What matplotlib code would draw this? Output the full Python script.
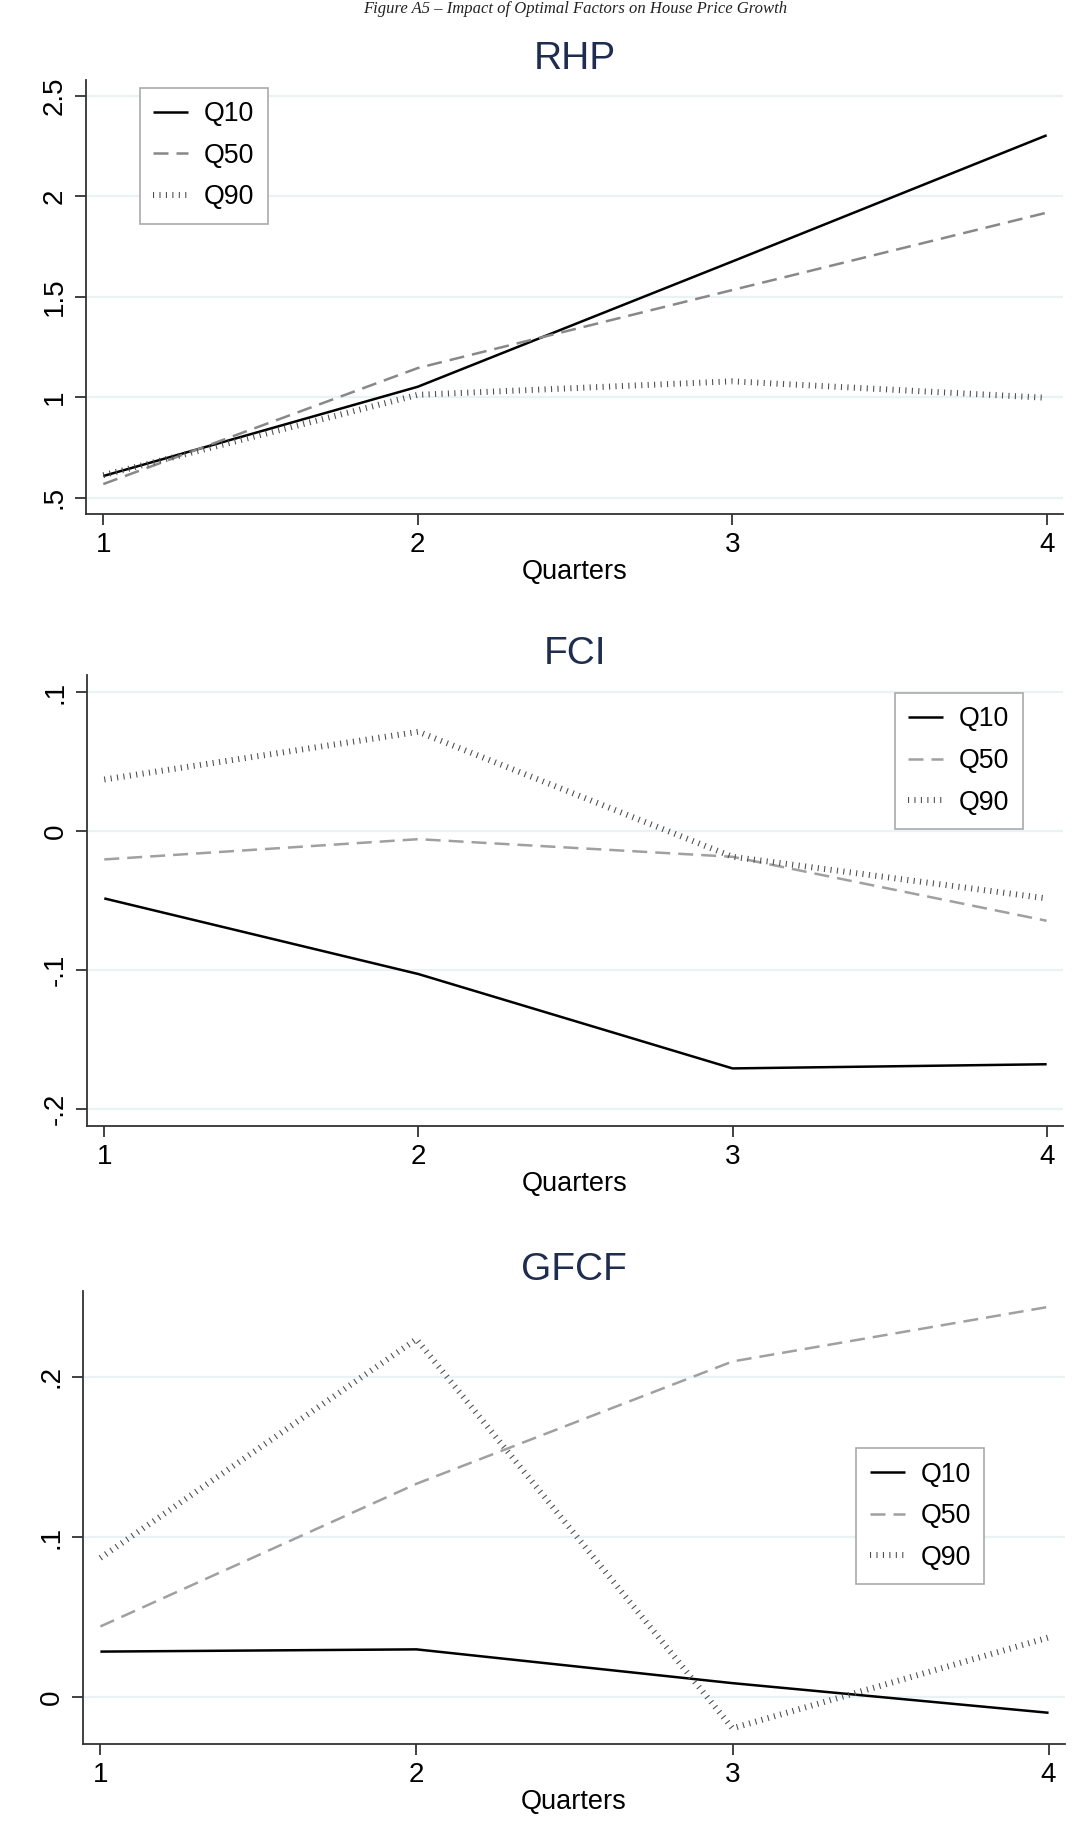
import numpy as np
import matplotlib
matplotlib.use("Agg")
import matplotlib.pyplot as plt

plt.rcParams['font.family'] = ['Liberation Sans', 'DejaVu Sans']

# data
quarters = [1, 2, 3, 4]
series_names = ['Q10', 'Q50', 'Q90']

rhp_q10 = [0.608, 1.052, 1.675, 2.303]
rhp_q50 = [0.568, 1.145, 1.533, 1.918]
rhp_q90 = [0.612, 1.012, 1.079, 0.997]

fci_q10 = [-0.0485, -0.103, -0.171, -0.168]
fci_q50 = [-0.0204, -0.0058, -0.0185, -0.0646]
fci_q90 = [0.0372, 0.0716, -0.0185, -0.0485]

gfcf_q10 = [0.0285, 0.0299, 0.0088, -0.0097]
gfcf_q50 = [0.0442, 0.1333, 0.2097, 0.2438]
gfcf_q90 = [0.0870, 0.2236, -0.0194, 0.0373]

rhp_ticks = [0.5, 1, 1.5, 2, 2.5]
rhp_labels = ['.5', '1', '1.5', '2', '2.5']
fci_ticks = [-0.2, -0.1, 0, 0.1]
fci_labels = ['-.2', '-.1', '0', '.1']
gfcf_ticks = [0, 0.1, 0.2]
gfcf_labels = ['0', '.1', '.2']

W, H = 1081, 1821
fig = plt.figure(figsize=(W / 100, H / 100), dpi=100)

# caption at the very top (cut in the original scan, kept fully visible here)
fig.text(575 / W, 1 - 1 / H, 'Figure A5 \u2013 Impact of Optimal Factors on House Price Growth',
         ha='center', va='top', fontsize=12, style='italic',
         family=['Liberation Serif', 'DejaVu Serif'], color='#222222')


def panel(rect_px, title, q10, q50, q90, yticks, ylabels, ylim, leg_loc, leg_anchor, q50_color):
    l, r, t, b = rect_px
    ax = fig.add_axes([l / W, 1 - b / H, (r - l) / W, (b - t) / H])
    ax.plot(quarters, q10, color='black', lw=1.8, label=series_names[0], solid_capstyle='butt')
    ax.plot(quarters, q50, color=q50_color, lw=1.8, linestyle=(0, (6, 3.2)), label=series_names[1])
    ax.plot(quarters, q90, color='#4d4d4d', lw=4.3, linestyle=(0, (0.18, 0.9)), label=series_names[2])
    ax.set_xlim(0.945, 4.052)
    ax.set_ylim(*ylim)
    ax.set_xticks(quarters)
    ax.set_yticks(yticks)
    ax.set_yticklabels(ylabels, rotation=90, va='center')
    ax.grid(axis='y', color='#eaf2f3', lw=1.6)
    ax.set_axisbelow(True)
    for s in ['top', 'right']:
        ax.spines[s].set_visible(False)
    for s in ['left', 'bottom']:
        ax.spines[s].set_color('#333333')
        ax.spines[s].set_linewidth(1.3)
    ax.tick_params(axis='both', length=8, width=1.3, color='#333333', labelsize=20, pad=5)
    ax.set_xlabel('Quarters', fontsize=19.5, labelpad=1)
    ax.set_title(title, fontsize=28, color='#1e2d4f', pad=8)
    leg = ax.legend(loc=leg_loc, bbox_to_anchor=leg_anchor, borderaxespad=0,
                    fontsize=19.3, handlelength=1.3, handletextpad=0.6, labelspacing=0.58,
                    borderpad=0.5, fancybox=False, framealpha=1, edgecolor='#aaaaaa')
    leg.get_frame().set_linewidth(1.2)
    return ax


panel((86, 1063, 80, 514), 'RHP', rhp_q10, rhp_q50, rhp_q90,
      rhp_ticks, rhp_labels, (0.419, 2.578), 'upper left', (0.055, 0.982), '#888888')
panel((87, 1063, 675, 1126), 'FCI', fci_q10, fci_q50, fci_q90,
      fci_ticks, fci_labels, (-0.2125, 0.1125), 'upper right', (0.959, 0.960), '#a0a0a0')
panel((83, 1065, 1291, 1744), 'GFCF', gfcf_q10, gfcf_q50, gfcf_q90,
      gfcf_ticks, gfcf_labels, (-0.0292, 0.2537), 'upper right', (0.918, 0.653), '#a0a0a0')

fig.savefig('out.png', dpi=100)
